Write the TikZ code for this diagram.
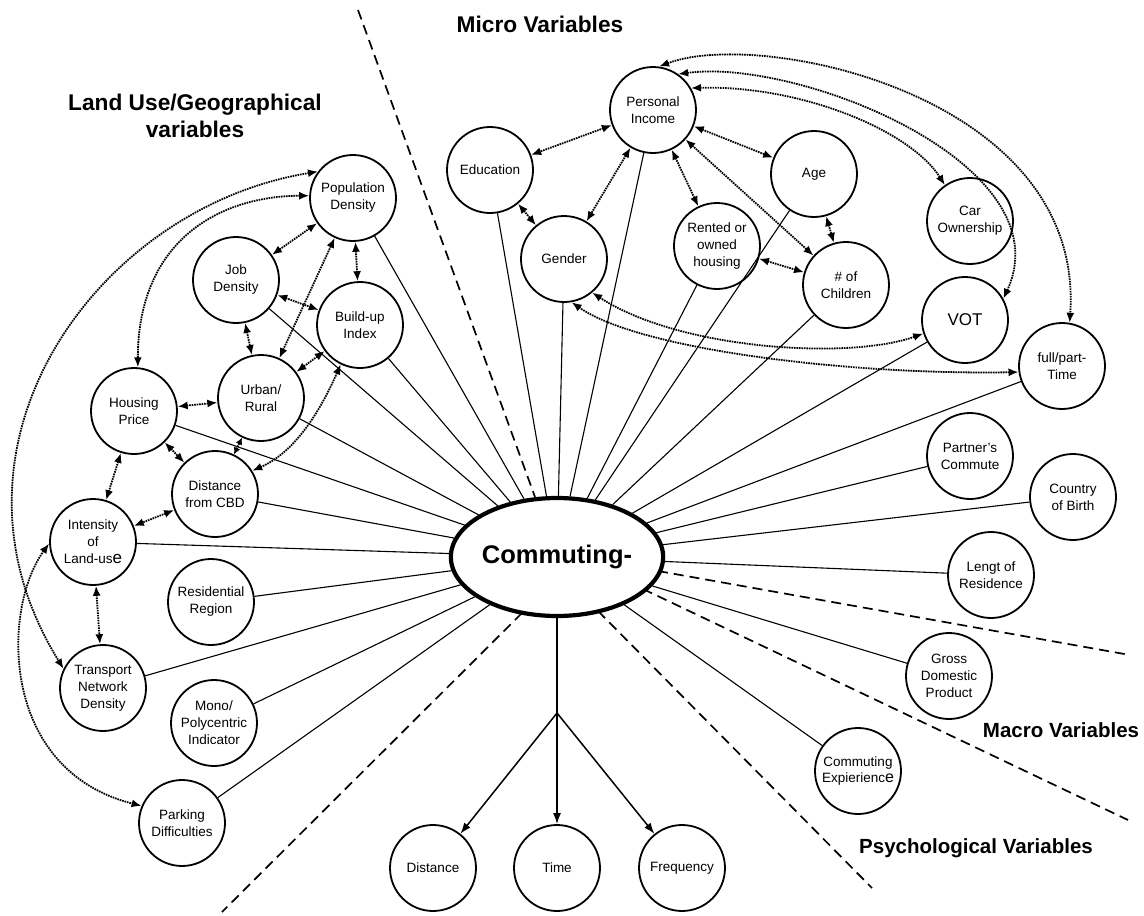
\documentclass[tikz,border=0pt]{standalone}
\usepackage{fontspec}
\setmainfont{Liberation Sans}
\usetikzlibrary{shapes.geometric,arrows.meta}
\begin{document}
\begin{tikzpicture}[x=1pt,y=-1pt,
  var/.style={circle,draw,fill=white,line width=1.8pt,minimum size=86pt,inner sep=0pt,align=center,font=\fontsize{13.5}{17}\selectfont},
  spoke/.style={line width=1.1pt},
  dotarr/.style={dash pattern=on 1.6pt off 0.9pt,line width=1.8pt,{Latex[length=10pt,width=8pt]}-{Latex[length=10pt,width=8pt]}},
  sepline/.style={dash pattern=on 10pt off 6pt,line width=1.7pt},
  head/.style={font=\fontsize{22.7}{27}\selectfont\bfseries,align=center},
  outarr/.style={line width=1.5pt,-{Latex[length=11pt,width=8pt]}}
]
\useasboundingbox (0,0) rectangle (1144,916);

% separators
\draw[sepline] (358,10) -- (535,497);
\draw[sepline] (522,613) -- (222,912);
\draw[sepline] (598,611) -- (872,888);
\draw[sepline] (658,571) -- (1130,655);
\draw[sepline] (643,589) -- (1128,820);

% headings
\node[head,anchor=base] (hland) at (195,137) {Land Use/Geographical\\variables};
\node[head,anchor=base] (hmicro) at (540,32) {Micro Variables};
\node[head,anchor=base,font=\fontsize{20.5}{25}\selectfont\bfseries] (hmacro) at (1061,737) {Macro Variables};
\node[head,anchor=base,font=\fontsize{20.5}{25}\selectfont\bfseries] (hpsych) at (976,853) {Psychological Variables};

% central node
\node[ellipse,draw,fill=white,line width=4.2pt,minimum width=204pt,minimum height=118pt,inner sep=0pt,font=\fontsize{25.5}{30}\selectfont\bfseries] (comm) at (557,557) {Commuting-};

% land use nodes
\node[var] (pd) at (353,198) {Population\\Density};
\node[var] (jd) at (236,280) {Job\\Density};
\node[var] (bu) at (360,325) {Build-up\\Index};
\node[var] (ur) at (261,398) {Urban/\\Rural};
\node[var] (hp) at (134,411) {Housing\\Price};
\node[var] (dc) at (215,494) {Distance\\from CBD};
\node[var] (il) at (93,542) {Intensity\\of\\Land-us{\fontsize{17}{17}\selectfont e}};
\node[var] (rr) at (211,602) {Residential\\Region};
\node[var] (tn) at (103,688) {Transport\\Network\\Density};
\node[var] (mp) at (214,723) {Mono/\\Polycentric\\Indicator};
\node[var] (pk) at (182,823) {Parking\\Difficulties};

% outcome nodes
\node[var] (dist) at (433,868) {Distance};
\node[var] (time) at (557,868) {Time};
\node[var] (freq) at (682,868) {Frequency};

% micro nodes
\node[var] (pi) at (653,110) {Personal\\Income};
\node[var] (ed) at (490,170) {Education};
\node[var] (ge) at (564,259) {Gender};
\node[var] (ro) at (717,246) {Rented or\\owned\\housing};
\node[var] (ag) at (814,174) {Age};
\node[var] (ch) at (846,285) {\# of\\Children};
\node[var] (co) at (970,221) {Car\\Ownership};
\node[var,font=\fontsize{17}{20}\selectfont] (vot) at (965,320) {VOT};
\node[var] (fp) at (1062,366) {full/part-\\Time};
\node[var] (pc) at (970,456) {Partner’s\\Commute};
\node[var] (cb) at (1073,497) {Country\\of Birth};
\node[var] (lr) at (991,575) {Lengt of\\Residence};
\node[var] (gdp) at (949,676) {Gross\\Domestic\\Product};
\node[var] (ce) at (858,771) {Commuting\\Expierienc{\fontsize{16}{16}\selectfont e}};

% spokes
\foreach \n in {pd,jd,bu,ur,hp,dc,il,rr,tn,mp,pk,ed,ge,pi,ro,ag,ch,vot,fp,pc,cb,lr,gdp,ce}
  \draw[spoke] (\n) -- (comm);

% outcomes
\coordinate (br) at (557,713);
\draw[line width=1.5pt] (comm) -- (br);
\draw[outarr] (br) -- (dist);
\draw[outarr] (br) -- (time);
\draw[outarr] (br) -- (freq);

% land use relations
\draw[dotarr] (pd) -- (jd);
\draw[dotarr] (pd) -- (bu);
\draw[dotarr] (pd) -- (ur);
\draw[dotarr] (jd) -- (bu);
\draw[dotarr] (jd) -- (ur);
\draw[dotarr] (bu) -- (ur);
\draw[dotarr] (hp) -- (ur);
\draw[dotarr] (hp) -- (dc);
\draw[dotarr] (hp) -- (il);
\draw[dotarr] (dc) -- (il);
\draw[dotarr] (il) -- (tn);
\draw[dotarr,{Latex[length=7pt,width=7pt]}-{Latex[length=7pt,width=7pt]}] (ur) -- (dc);
\draw[dotarr] (bu.244) .. controls (325,400) and (300,450) .. (dc.32);
\draw[dotarr] (pd.177) .. controls (220,196) and (138,240) .. (hp.85);
\draw[dotarr] (pd.143) .. controls (98,207) and (-75,445) .. (tn.154);
\draw[dotarr] (il.182) .. controls (2,608) and (-1,770) .. (pk.157);

% micro relations
\draw[dotarr] (pi) -- (ed);
\draw[dotarr] (pi) -- (ge);
\draw[dotarr] (pi) -- (ro);
\draw[dotarr] (pi) -- (ag);
\draw[dotarr] (pi) -- (ch);
\draw[dotarr] (ed) -- (ge);
\draw[dotarr] (ag) -- (ch);
\draw[dotarr] (ro) -- (ch);
\draw[dotarr] (pi.82) .. controls (760,28) and (1085,95) .. (fp.80);
\draw[dotarr] (pi.55) .. controls (800,58) and (1065,165) .. (vot.29);
\draw[dotarr] (pi.30) .. controls (800,85) and (910,130) .. (co.125);
\draw[dotarr] (ge.310) .. controls (680,350) and (850,360) .. (vot.198);
\draw[dotarr] (ge.280) .. controls (640,350) and (850,375) .. (fp.188);
\end{tikzpicture}
\end{document}
